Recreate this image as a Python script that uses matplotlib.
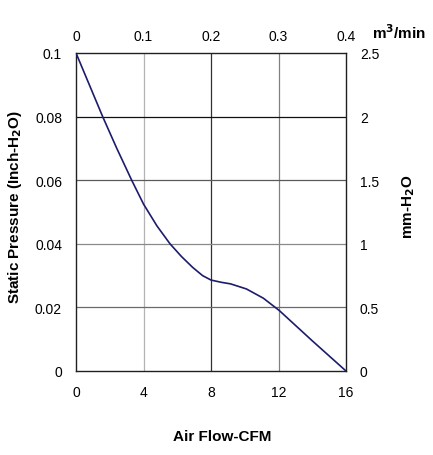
import matplotlib
matplotlib.use("Agg")
import matplotlib.pyplot as plt

plt.rcParams['font.family'] = ['Liberation Sans', 'DejaVu Sans']

# Data
airflow_cfm = [0, 1.58, 2.4, 3.3, 4.0, 4.8, 5.57, 6.25, 6.91, 7.5, 8.0, 8.6, 9.16, 10.1, 11.1, 12.05, 14, 16]
pressure_inh2o = [0.1, 0.08, 0.0702, 0.06, 0.0525, 0.0456, 0.04, 0.036, 0.0326, 0.0300, 0.0286, 0.0279, 0.0274,
                  0.0258, 0.0229, 0.019, 0.0095, 0.0]

x_ticks = [0, 4, 8, 12, 16]
y_ticks = [0, 0.02, 0.04, 0.06, 0.08, 0.1]
y_tick_labels = ['0', '0.02', '0.04', '0.06', '0.08', '0.1']
top_ticks = [0, 0.1, 0.2, 0.3, 0.4]
top_tick_labels = ['0', '0.1', '0.2', '0.3', '0.4']
right_ticks = [0, 0.5, 1, 1.5, 2, 2.5]
right_tick_labels = ['0', '0.5', '1', '1.5', '2', '2.5']

fig = plt.figure(figsize=(4.33, 4.56), dpi=100)
W, H = 433, 456
left, right, top, bottom = 76, 346, 54, 372
ax = fig.add_axes([left / W, 1 - bottom / H, (right - left) / W, (bottom - top) / H])

ax.set_xlim(0, 16)
ax.set_ylim(0, 0.1)

# grid lines
vcolors = {4: '#b4b4b4', 8: '#303030', 12: '#808080'}
for xv, c in vcolors.items():
    ax.axvline(xv, color=c, lw=0.9, zorder=1)
hcolors = {0.02: '#6a6a6a', 0.04: '#8a8a8a', 0.06: '#5a5a5a', 0.08: '#101010'}
for yv, c in hcolors.items():
    ax.axhline(yv, color=c, lw=0.9, zorder=1)

ax.plot(airflow_cfm, pressure_inh2o, color='#1c1c6c', lw=1.2, zorder=3)

for s in ax.spines.values():
    s.set_color('#202020')
    s.set_linewidth(1.0)

ax.set_xticks(x_ticks)
ax.set_xticklabels([str(v) for v in x_ticks])
ax.set_yticks(y_ticks)
ax.set_yticklabels(y_tick_labels)
ax.tick_params(axis='x', length=0, pad=10, labelsize=10)
ax.tick_params(axis='y', length=0, pad=10, labelsize=10)

secx = ax.secondary_xaxis('top', functions=(lambda x: x / 40.0, lambda x: x * 40.0))
secx.set_xticks(top_ticks)
secx.set_xticklabels(top_tick_labels)
secx.tick_params(length=0, pad=7, labelsize=10)
for s in secx.spines.values():
    s.set_visible(False)

secy = ax.secondary_yaxis('right', functions=(lambda y: y * 25.0, lambda y: y / 25.0))
secy.set_yticks(right_ticks)
secy.set_yticklabels(right_tick_labels)
secy.tick_params(length=0, pad=10, labelsize=10)
for s in secy.spines.values():
    s.set_visible(False)

fig.text(222 / W, 1 - 437 / H, 'Air Flow-CFM', fontsize=11, fontweight='bold', ha='center', va='center')
fig.text(15 / W, 1 - 207 / H, 'Static Pressure (Inch-H$_\\mathbf{2}$O)', fontsize=11, fontweight='bold',
         ha='center', va='center', rotation=90)
fig.text(409 / W, 1 - 207 / H, 'mm-H$_\\mathbf{2}$O', fontsize=11, fontweight='bold',
         ha='center', va='center', rotation=90)
fig.text(399 / W, 1 - 33 / H, 'm$^\\mathbf{3}$/min', fontsize=11, fontweight='bold', ha='center', va='center')

fig.savefig('out.png', dpi=100)
